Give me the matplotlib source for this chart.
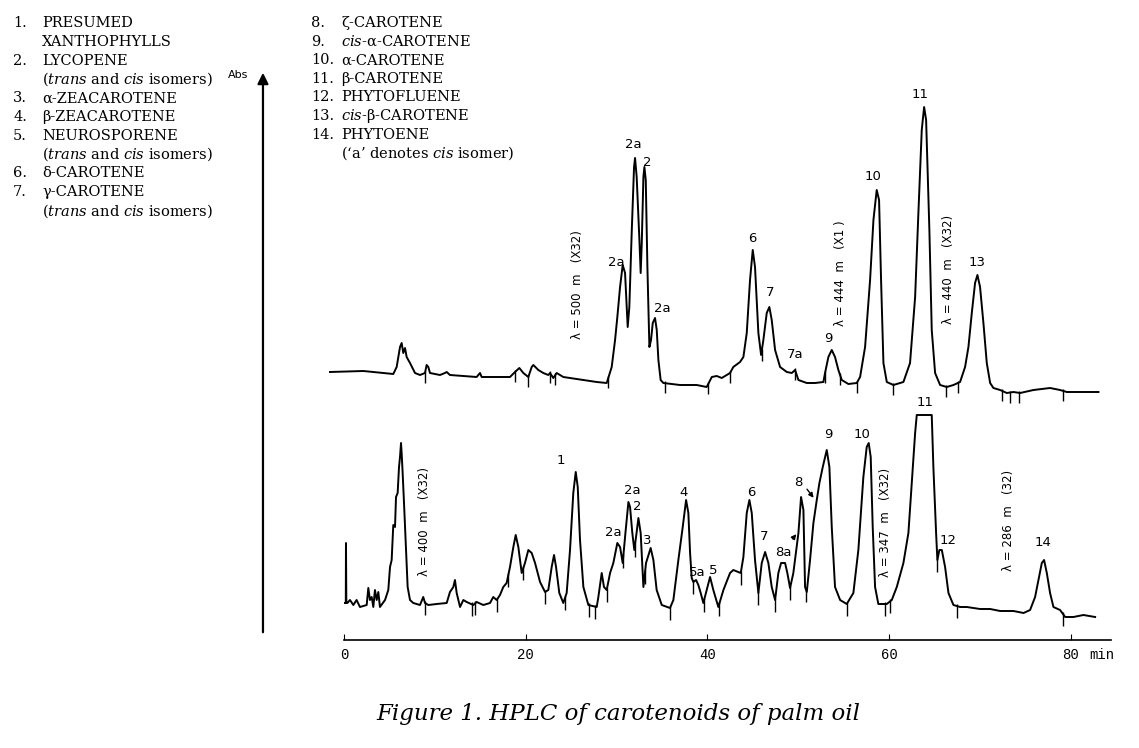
import numpy as np
import matplotlib
matplotlib.use("Agg")
import matplotlib.pyplot as plt

plt.rcParams['mathtext.fontset'] = 'custom'
plt.rcParams['mathtext.rm'] = 'DejaVu Serif'
plt.rcParams['mathtext.it'] = 'DejaVu Serif:italic'

# ---------------- data (retention time in min, absorbance in arbitrary units) ----
upper_t = [-1.54, 2.13, 5.43, 5.80, 6.17, 6.35, 6.53, 6.72, 6.90, 7.27, 7.82, 8.37, 8.92, 9.10,
           9.29, 9.47, 10.57, 11.12, 11.31, 11.67, 14.61, 14.98, 15.16, 18.28, 18.83, 19.31,
           19.75, 20.30, 20.67, 20.85, 21.40, 21.95, 22.50, 22.69, 23.05, 23.42, 24.15, 25.63,
           27.83, 28.93, 29.48, 29.85, 30.10, 30.40, 30.69, 30.95, 31.13, 31.24, 31.42, 31.68,
           31.94, 32.05, 32.23, 32.53, 32.67, 32.79, 32.97, 33.08, 33.23, 33.41, 33.63, 33.81,
           34.00, 34.25, 34.44, 34.62, 34.87, 35.17, 37.00, 38.84, 39.94, 40.50, 41.04, 41.60,
           42.51, 42.87, 43.61, 43.98, 44.35, 44.71, 45.01, 45.26, 45.63, 45.93, 46.18, 46.55,
           46.84, 47.10, 47.47, 48.02, 48.76, 49.31, 49.67, 50.04, 50.96, 51.87, 52.79, 52.97,
           53.34, 53.71, 54.07, 54.44, 54.81, 55.54, 56.46, 56.83, 57.38, 57.93, 58.30, 58.66,
           58.92, 59.14, 59.40, 59.77, 60.50, 61.60, 62.33, 62.89, 63.25, 63.62, 63.88, 64.10,
           64.46, 64.72, 65.09, 65.64, 66.37, 67.11, 67.84, 68.39, 68.76, 69.13, 69.49, 69.75,
           70.04, 70.41, 70.78, 71.15, 71.51, 72.25, 72.98, 73.72, 74.45, 75.92, 77.75, 78.85,
           79.59, 83.08]
upper_h = [268, 269, 266, 273, 293, 297, 287, 292, 283, 277, 267, 265, 267, 275,
           273, 267, 265, 267, 268, 265, 263, 267, 263, 263, 268, 272,
           267, 263, 273, 275, 270, 267, 265, 267, 262, 267, 263, 261,
           258, 257, 273, 300, 323, 353, 375, 367, 333, 313, 333, 407,
           473, 482, 463, 400, 367, 397, 463, 473, 460, 373, 293, 300,
           317, 322, 310, 280, 260, 257, 255, 255, 253, 263, 264, 262,
           267, 273, 278, 283, 307, 360, 390, 373, 307, 285, 300, 327,
           333, 320, 290, 273, 268, 267, 270, 260, 257, 257, 258, 267,
           283, 290, 283, 270, 260, 256, 257, 263, 293, 360, 420, 450,
           440, 360, 277, 258, 255, 258, 277, 343, 427, 510, 533, 520,
           410, 310, 267, 255, 253, 255, 258, 273, 293, 327, 357, 365,
           353, 317, 277, 257, 252, 250, 247, 248, 247, 250, 252, 250,
           248, 248]

lower_t = [0.11, 0.20, 0.22, 0.26, 0.37, 0.66, 1.03, 1.39, 1.76, 2.50, 2.68, 2.86, 3.05, 3.23,
           3.41, 3.60, 3.78, 3.96, 4.52, 4.88, 5.07, 5.25, 5.43, 5.62, 5.73, 5.91, 6.06, 6.17,
           6.28, 6.35, 6.46, 6.61, 6.83, 7.01, 7.27, 7.63, 8.37, 8.73, 8.92, 9.29, 10.21, 11.31,
           11.67, 12.04, 12.22, 12.41, 12.78, 13.14, 13.51, 14.24, 14.61, 15.34, 16.08, 16.44,
           16.81, 17.18, 17.54, 17.91, 18.28, 18.65, 18.91, 19.20, 19.57, 19.93, 20.30, 20.67,
           21.04, 21.59, 22.14, 22.50, 22.87, 23.13, 23.35, 23.71, 24.15, 24.52, 24.89, 25.25,
           25.52, 25.74, 25.99, 26.36, 26.91, 27.83, 28.01, 28.38, 28.63, 28.93, 29.30, 29.66,
           30.10, 30.40, 30.69, 30.99, 31.32, 31.50, 31.75, 31.97, 32.16, 32.42, 32.67, 32.97,
           33.26, 33.77, 34.07, 34.43, 34.99, 35.90, 36.27, 36.82, 37.30, 37.67, 37.92, 38.11,
           38.29, 38.47, 38.77, 39.02, 39.28, 39.57, 39.94, 40.31, 40.67, 41.22, 41.78, 42.51,
           42.87, 43.43, 43.69, 43.98, 44.35, 44.64, 44.90, 45.26, 45.63, 46.00, 46.37, 46.73,
           47.10, 47.47, 47.83, 48.13, 48.57, 48.82, 49.12, 49.48, 50.04, 50.33, 50.59, 50.77,
           50.96, 51.32, 51.69, 52.06, 52.35, 52.72, 53.16, 53.45, 53.71, 54.07, 54.63, 55.36,
           56.09, 56.64, 57.19, 57.56, 57.78, 58.00, 58.22, 58.48, 58.84, 59.77, 60.32, 60.87,
           61.60, 62.15, 62.52, 62.89, 63.07, 64.72, 64.90, 65.20, 65.34, 65.56, 65.83, 66.19,
           66.56, 67.11, 67.84, 68.58, 70.04, 71.15, 72.25, 73.72, 74.83, 75.55, 76.10, 76.47,
           76.84, 77.09, 77.39, 77.75, 78.12, 78.85, 79.41, 80.32, 81.42, 82.71]
lower_h = [37, 37, 97, 37, 37, 40, 35, 40, 33, 35, 52, 40, 43, 33,
           50, 40, 48, 33, 40, 50, 73, 80, 115, 113, 143, 147, 173, 183,
           197, 187, 167, 137, 90, 53, 40, 37, 35, 43, 37, 35, 36, 37,
           48, 53, 60, 47, 33, 40, 38, 35, 38, 35, 37, 43,
           40, 45, 53, 57, 73, 93, 105, 93, 67, 77, 90, 87,
           77, 58, 48, 50, 73, 85, 73, 47, 37, 47, 90, 147,
           168, 153, 100, 53, 35, 33, 43, 67, 53, 50, 67, 77,
           97, 93, 77, 107, 138, 133, 107, 90, 103, 122, 107, 53,
           77, 92, 80, 50, 35, 32, 40, 80, 113, 140, 127, 87,
           62, 58, 60, 55, 47, 37, 50, 63, 50, 33, 50, 67,
           70, 68, 67, 83, 127, 140, 127, 80, 47, 77, 88, 77,
           53, 40, 67, 77, 77, 67, 52, 67, 107, 143, 130, 53,
           48, 80, 117, 140, 157, 173, 190, 173, 113, 53, 40, 36,
           47, 90, 163, 193, 197, 183, 113, 53, 36, 36, 40, 53,
           77, 107, 157, 207, 225, 225, 173, 107, 80, 90, 90, 73,
           47, 35, 33, 33, 31, 31, 29, 29, 27, 30, 43, 60,
           77, 80, 67, 47, 33, 30, 23, 23, 25, 23]

# integrator event marks (retention times)
upper_marks = [8.92, 18.83, 20.30, 22.69, 23.24, 29.11, 35.35, 40.12, 42.51, 46.0, 49.67,
               52.97, 54.63, 56.46, 60.43, 66.30, 67.66, 72.43, 73.35, 74.37, 79.22]
lower_marks = [8.92, 14.06, 14.43, 16.81, 18.1, 19.75, 22.14, 24.34, 27.02, 27.64, 28.93,
               30.76, 32.05, 33.15, 35.90, 38.47, 39.65, 41.33, 43.69, 45.63, 47.47, 49.12,
               50.88, 55.36, 59.58, 60.13, 65.34, 67.47, 79.15]

# peak labels: (text, time, height)
upper_labels = [("2a", 31.83, 495), ("2", 33.37, 478), ("2a", 29.96, 378), ("2a", 35.02, 332),
                ("6", 44.93, 402), ("7", 46.92, 348), ("7a", 49.67, 285), ("9", 53.30, 302),
                ("10", 58.26, 463), ("11", 63.44, 545), ("13", 69.71, 378)]
lower_labels = [("1", 23.90, 179), ("2a", 31.72, 149), ("2", 32.27, 133), ("2a", 29.63, 108),
                ("3", 33.37, 99), ("4", 37.44, 148), ("5a", 38.88, 68), ("5", 40.64, 69),
                ("6", 44.82, 148), ("7", 46.26, 104), ("8a", 48.35, 88), ("8", 50.0, 157),
                ("9", 53.30, 205), ("10", 57.05, 205), ("11", 63.99, 238), ("12", 66.52, 100),
                ("14", 76.98, 98)]
wavelength_labels = [("λ = 500  m   (X32)", 25.66, 355), ("λ = 444  m   (X1 )", 54.63, 367),
                     ("λ = 440  m   (X32)", 66.52, 371), ("λ = 400  m   (X32)", 8.92, 118),
                     ("λ = 347  m   (X32)", 59.58, 118), ("λ = 286  m   (32)", 73.13, 120)]

x_ticks = [0, 20, 40, 60, 80]

legend_left = [("1.", "PRESUMED"), ("", "XANTHOPHYLLS"), ("2.", "LYCOPENE"),
               ("", r"($\mathit{trans}$ and $\mathit{cis}$ isomers)"),
               ("3.", "α-ZEACAROTENE"), ("4.", "β-ZEACAROTENE"), ("5.", "NEUROSPORENE"),
               ("", r"($\mathit{trans}$ and $\mathit{cis}$ isomers)"),
               ("6.", "δ-CAROTENE"), ("7.", "γ-CAROTENE"),
               ("", r"($\mathit{trans}$ and $\mathit{cis}$ isomers)")]
legend_right = [("8.", "ζ-CAROTENE"), ("9.", r"$\mathit{cis}$-α-CAROTENE"),
                ("10.", "α-CAROTENE"), ("11.", "β-CAROTENE"), ("12.", "PHYTOFLUENE"),
                ("13.", r"$\mathit{cis}$-β-CAROTENE"), ("14.", "PHYTOENE"),
                ("", r"(‘a’ denotes $\mathit{cis}$ isomer)")]

# ---------------- figure -------------------------------------------------------
W, H = 1139, 748
fig = plt.figure(figsize=(W / 100, H / 100), dpi=100)
ax = fig.add_axes([235 / W, (H - 640) / H, 890 / W, 600 / H])
ax.set_xlim(-12, 86)
ax.set_ylim(0, 600)

for s in ("top", "right", "left"):
    ax.spines[s].set_visible(False)
ax.spines["bottom"].set_bounds(0, 84.5)
ax.spines["bottom"].set_linewidth(1.2)
ax.set_yticks([])
ax.set_xticks(x_ticks)
ax.set_xticklabels([str(v) for v in x_ticks], family="Liberation Mono", fontsize=10)
ax.tick_params(axis="x", direction="in", length=4, width=0.8, pad=6)
ax.text(83.4, -15, "min", family="Liberation Mono", fontsize=10, ha="center",
        va="center", clip_on=False)

lw = 1.4
ax.plot(upper_t, upper_h, color="black", lw=lw, solid_joinstyle="round", clip_on=False)
ax.plot(lower_t, lower_h, color="black", lw=lw, solid_joinstyle="round", clip_on=False)

um = np.interp(upper_marks, upper_t, upper_h)
lm = np.interp(lower_marks, lower_t, lower_h)
ax.vlines(upper_marks, um - 10, um + 2, color="black", lw=1.0)
ax.vlines(lower_marks, lm - 12, lm + 2, color="black", lw=1.0)

# Abs arrow
ax.annotate("", xy=(-8.92, 570), xytext=(-8.92, 5), xycoords="data",
            arrowprops=dict(arrowstyle="-|>", lw=1.6, color="black", mutation_scale=16),
            annotation_clip=False)
ax.text(-11.7, 565, "Abs", fontsize=8, ha="center", va="center", family="DejaVu Sans",
        clip_on=False)

for txt, t, h in upper_labels + lower_labels:
    ax.text(t, h, txt, fontsize=9.5, ha="center", va="center", family="DejaVu Sans")
for txt, t, h in wavelength_labels:
    ax.text(t, h, txt, fontsize=8.5, ha="center", va="center", rotation=90,
            family="DejaVu Sans")

# arrows for minor peaks
ax.annotate("", xy=(51.9, 140), xytext=(50.8, 153),
            arrowprops=dict(arrowstyle="-|>", lw=1.0, color="black", mutation_scale=7))
ax.annotate("", xy=(50.0, 108), xytext=(49.2, 99),
            arrowprops=dict(arrowstyle="-|>", lw=1.0, color="black", mutation_scale=7))

# legend text blocks
def block(items, xnum, xtxt, y0, dy):
    for i, (num, txt) in enumerate(items):
        y = 1 - (y0 + i * dy) / H
        if num:
            fig.text(xnum / W, y, num, family="DejaVu Serif", fontsize=10.5, va="center")
        fig.text(xtxt / W, y, txt, family="DejaVu Serif", fontsize=10.5, va="center")

block(legend_left, 13, 42, 23, 18.8)
block(legend_right, 311, 341, 23, 18.6)

fig.text(618 / W, 1 - 714 / H, "Figure 1. HPLC of carotenoids of palm oil",
         family="DejaVu Serif", style="italic", fontsize=16.5, ha="center", va="center")

fig.savefig("out.png", dpi=100)
